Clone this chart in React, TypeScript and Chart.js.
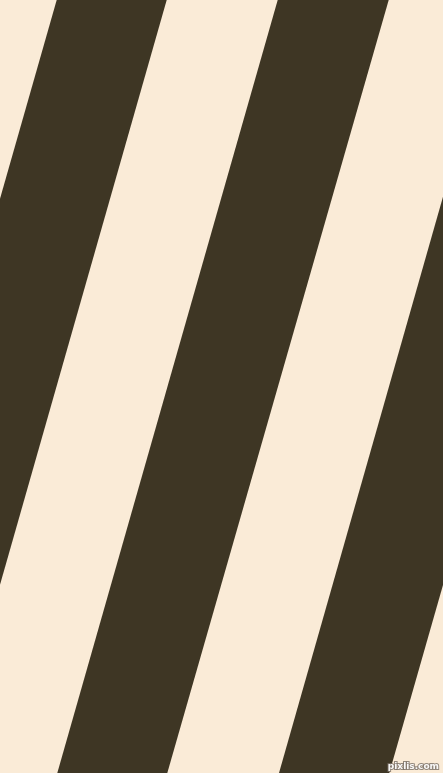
import React, { useEffect, useRef } from "react";
import { Chart, registerables } from "chart.js";

Chart.register(...registerables);

// Horizontal extent of each dark stripe, read at the top (y = 0) and bottom (y = 773) edges
const stripeNames = ["Stripe 1", "Stripe 2", "Stripe 3"];
const topLeft = [56.7, 277.7, 499.0];
const topRight = [166.7, 388.7, 610.0];
const bottomLeft = [-163.7, 57.3, 279.0];
const bottomRight = [-53.7, 167.3, 389.3];
const yTop = 0;
const yBottom = 773;
const xMax = 443;

const DARK = "#3e3624";
const LIGHT = "#faebd7";
const watermark = "pixlis.com";

const watermarkPlugin = {
  id: "watermark",
  afterDraw(chart: any) {
    const { ctx, chartArea } = chart;
    ctx.save();
    ctx.font = "bold 9px 'DejaVu Sans', sans-serif";
    ctx.textAlign = "right";
    ctx.textBaseline = "bottom";
    ctx.lineWidth = 2;
    ctx.strokeStyle = "rgba(120,110,100,0.8)";
    ctx.fillStyle = "rgba(255,255,255,0.95)";
    const x = chartArea.right - 4;
    const y = chartArea.bottom - 2;
    ctx.strokeText(watermark, x, y);
    ctx.fillText(watermark, x, y);
    ctx.restore();
  },
};

export default function App() {
  const ref = useRef<HTMLCanvasElement | null>(null);

  useEffect(() => {
    document.body.style.margin = "0";
    if (!ref.current) return;
    const datasets = stripeNames.map((name, i) => ({
      label: name,
      data: [
        { x: topLeft[i], y: yTop },
        { x: topRight[i], y: yTop },
        { x: bottomRight[i], y: yBottom },
        { x: bottomLeft[i], y: yBottom },
        { x: topLeft[i], y: yTop },
      ],
      showLine: true,
      fill: "shape",
      backgroundColor: DARK,
      borderColor: DARK,
      borderWidth: 0,
      pointRadius: 0,
      tension: 0,
    }));
    const chart = new Chart(ref.current, {
      type: "scatter",
      data: { datasets: datasets as any },
      options: {
        animation: false,
        responsive: true,
        maintainAspectRatio: false,
        layout: { padding: 0 },
        plugins: {
          legend: { display: false },
          tooltip: { enabled: false },
        },
        scales: {
          x: { type: "linear", min: 0, max: xMax, display: false },
          y: { type: "linear", min: yTop, max: yBottom, reverse: true, display: false },
        },
      },
      plugins: [watermarkPlugin],
    });
    return () => chart.destroy();
  }, []);

  return (
    <div style={{ width: 443, height: 773, background: LIGHT, position: "relative" }}>
      <canvas ref={ref} />
    </div>
  );
}
